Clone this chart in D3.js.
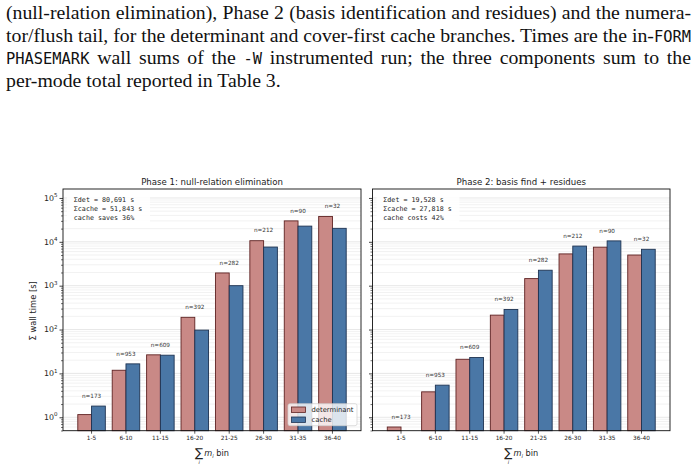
<!DOCTYPE html>
<html>
<head>
<meta charset="utf-8">
<script src="https://cdn.jsdelivr.net/npm/d3@7"></script>
<style>
  body { margin: 0; background: #fff; }
  svg { display: block; }
  .tick text { font-family: "DejaVu Sans", sans-serif; fill: #222; }
</style>
</head>
<body>
<svg id="chart" width="700" height="470"></svg>
<script>
// ---- data ----
let bins = ["1-5", "6-10", "11-15", "16-20", "21-25", "26-30", "31-35", "36-40"];
let counts = [173, 953, 609, 392, 282, 212, 90, 32];
let phase1_det = [1.15, 11.8, 26.5, 190, 1950, 10600, 30000, 37900];
let phase1_cache = [1.8, 16.5, 26, 97, 1000, 7600, 22800, 20300];
let phase2_det = [0.6, 3.8, 21, 213, 1450, 5300, 7550, 5000];
let phase2_cache = [0.4, 5.4, 23, 286, 2250, 8000, 10500, 6750];
let y_major = [1, 10, 100, 1000, 10000, 100000];
let phase1_note = ["\u03A3det = 80,691 s", "\u03A3cache = 51,843 s", "cache saves 36%"];
let phase2_note = ["\u03A3det = 19,528 s", "\u03A3cache = 27,818 s", "cache costs 42%"];
let series_names = ["determinant", "cache"];
let caption = [
  [["(null-relation elimination), Phase 2 (basis identification and residues) and the numera-", 0]],
  [["tor/flush tail, for the determinant and cover-first cache branches. Times are the in-", 0], ["FORM", 1]],
  [["PHASEMARK", 1], [" wall sums of the ", 0], ["-W", 1], [" instrumented run; the three components sum to the", 0]],
  [["per-mode total reported in Table 3.", 0]]
];

let colors = {det: "#c98986", det_edge: "#5e2222", cache: "#4a77a6", cache_edge: "#1e3352"},
  plot = {top: 189, bottom: 430.7},
  panels = [
    {left: 63, right: 361, title: "Phase 1: null-relation elimination", det: phase1_det, cache: phase1_cache, note: phase1_note, labels: true, legend: true},
    {left: 372.5, right: 670, title: "Phase 2: basis find + residues", det: phase2_det, cache: phase2_cache, note: phase2_note, labels: false, legend: false}
  ];

let svg = d3.select("#chart");

function draw_caption() {
  let g = svg.append("g");
  caption.forEach((segs, i) => {
    let t = g.append("text")
      .attr("x", 6)
      .attr("y", 19 + 22.5 * i)
      .attr("font-size", 19.8)
      .attr("fill", "#111");
    segs.forEach(s => {
      t.append("tspan")
        .attr("font-family", s[1] ? "'DejaVu Sans Mono', monospace" : "'Liberation Serif', serif")
        .attr("font-size", s[1] ? 15.4 : 19.8)
        .text(s[0]);
    });
    if (i < caption.length - 1) {
      let full = segs.map(s => s[0]).join("");
      let n_spaces = full.split(" ").length - 1;
      let natural = t.node().getComputedTextLength();
      t.attr("word-spacing", (685 - natural) / n_spaces);
    }
  });
}

function draw_panel(p, y) {
  let x = d3.scaleBand()
    .domain(bins)
    .range([p.left, p.right])
    .paddingInner(0)
    .paddingOuter(0.33);
  let bw = x.bandwidth();
  let g = svg.append("g");

  // grid, minor + major
  g.append("g").selectAll("line")
    .data(y.ticks())
    .enter().append("line")
    .attr("x1", p.left).attr("x2", p.right)
    .attr("y1", d => y(d)).attr("y2", d => y(d))
    .attr("stroke", d => y_major.includes(d) ? "#dcdcdc" : "#ececec")
    .attr("stroke-width", 0.7);

  let pairs = [["det", p.det, -0.4], ["cache", p.cache, 0]];
  pairs.forEach(([key, vals, off]) => {
    g.append("g").selectAll("rect")
      .data(bins.map((b, i) => ({bin: b, v: vals[i]})).filter(d => d.v > y.domain()[0]))
      .enter().append("rect")
      .attr("x", d => x(d.bin) + bw / 2 + off * bw)
      .attr("width", 0.4 * bw)
      .attr("y", d => y(d.v))
      .attr("height", d => plot.bottom - y(d.v))
      .attr("fill", colors[key])
      .attr("stroke", colors[key + "_edge"])
      .attr("stroke-width", 0.9);
  });

  // n labels
  g.append("g").selectAll("text")
    .data(bins.map((b, i) => ({bin: b, n: counts[i], top: Math.max(p.det[i], p.cache[i])})))
    .enter().append("text")
    .attr("x", d => x(d.bin) + bw / 2)
    .attr("y", d => y(d.top * 1.5) - 0.5)
    .attr("text-anchor", "middle")
    .attr("font-family", "'DejaVu Sans', sans-serif")
    .attr("font-size", 5.7)
    .attr("fill", "#333")
    .text(d => "n=" + d.n);

  // spines
  g.append("rect")
    .attr("x", p.left).attr("y", plot.top)
    .attr("width", p.right - p.left).attr("height", plot.bottom - plot.top)
    .attr("fill", "none").attr("stroke", "#111").attr("stroke-width", 0.9);

  // x axis
  let xa = g.append("g")
    .attr("transform", `translate(0, ${plot.bottom})`)
    .call(d3.axisBottom(x).tickSize(3).tickPadding(2));
  xa.select(".domain").remove();
  xa.selectAll(".tick line").attr("stroke", "#111").attr("stroke-width", 0.7);
  xa.selectAll(".tick text").attr("font-size", 5.8);

  // y axis, minor then major
  let ya_minor = g.append("g")
    .attr("transform", `translate(${p.left}, 0)`)
    .call(d3.axisLeft(y).tickValues(y.ticks().filter(d => !y_major.includes(d))).tickSize(2).tickFormat(""));
  ya_minor.select(".domain").remove();
  ya_minor.selectAll(".tick line").attr("stroke", "#111").attr("stroke-width", 0.6);
  let ya = g.append("g")
    .attr("transform", `translate(${p.left}, 0)`)
    .call(d3.axisLeft(y).tickValues(y_major).tickSize(3.5).tickFormat(""));
  ya.select(".domain").remove();
  ya.selectAll(".tick line").attr("stroke", "#111").attr("stroke-width", 0.8);

  if (p.labels) {
    let lab = g.append("g").selectAll("text")
      .data(y_major)
      .enter().append("text")
      .attr("x", p.left - 5.5)
      .attr("y", d => y(d) + 2.8)
      .attr("text-anchor", "end")
      .attr("font-family", "'DejaVu Sans', sans-serif")
      .attr("font-size", 7.9)
      .attr("fill", "#222");
    lab.append("tspan").text("10");
    lab.append("tspan")
      .attr("font-size", 5.5)
      .attr("dy", -3.6)
      .text(d => Math.round(Math.log10(d)));

    svg.append("text")
      .attr("transform", `translate(35.5, ${(plot.top + plot.bottom) / 2 + 1}) rotate(-90)`)
      .attr("text-anchor", "middle")
      .attr("font-family", "'DejaVu Sans', sans-serif")
      .attr("font-size", 8.3)
      .attr("fill", "#222")
      .text("\u03A3 wall time [s]");
  }

  // title
  svg.append("text")
    .attr("x", (p.left + p.right) / 2)
    .attr("y", 184.8)
    .attr("text-anchor", "middle")
    .attr("font-family", "'DejaVu Sans', sans-serif")
    .attr("font-size", 8.6)
    .attr("fill", "#222")
    .text(p.title);

  // summary note
  g.append("rect")
    .attr("x", p.left + 4).attr("y", plot.top + 3)
    .attr("width", 83).attr("height", 33)
    .attr("fill", "#fff").attr("fill-opacity", 0.85);
  g.append("g").selectAll("text")
    .data(p.note)
    .enter().append("text")
    .attr("x", p.left + 10.8)
    .attr("y", (d, i) => plot.top + 12.6 + 9.2 * i)
    .attr("font-family", "'DejaVu Sans Mono', monospace")
    .attr("font-size", 6.7)
    .attr("fill", "#222")
    .attr("xml:space", "preserve")
    .text(d => d);

  // legend
  if (p.legend) {
    let lg = g.append("g").attr("transform", `translate(${p.right - 73}, ${plot.bottom - 27})`);
    lg.append("rect")
      .attr("width", 69).attr("height", 22).attr("rx", 2)
      .attr("fill", "#fff").attr("fill-opacity", 0.8)
      .attr("stroke", "#d0d0d0").attr("stroke-width", 0.7);
    series_names.forEach((name, i) => {
      let key = i == 0 ? "det" : "cache";
      lg.append("rect")
        .attr("x", 3.5).attr("y", 3.3 + 10 * i)
        .attr("width", 14).attr("height", 5.4)
        .attr("fill", colors[key]).attr("stroke", colors[key + "_edge"]).attr("stroke-width", 0.8);
      lg.append("text")
        .attr("x", 23.5).attr("y", 8.6 + 10 * i)
        .attr("font-family", "'DejaVu Sans', sans-serif")
        .attr("font-size", 6.8)
        .attr("fill", "#222")
        .text(name);
    });
  }

  // x label: sum_i m_i bin
  let cx = (p.left + p.right) / 2;
  let xl = svg.append("text")
    .attr("x", cx)
    .attr("y", 456)
    .attr("text-anchor", "middle")
    .attr("font-family", "'DejaVu Sans', sans-serif")
    .attr("fill", "#222");
  xl.append("tspan").attr("font-size", 12).attr("dy", 0.6).text("\u2211");
  xl.append("tspan").attr("font-size", 8.2).attr("font-style", "italic").attr("dx", 1).attr("dy", -0.6).text("m");
  xl.append("tspan").attr("font-size", 5.2).attr("font-style", "italic").attr("dy", 1.8).text("i");
  xl.append("tspan").attr("font-size", 8.2).attr("dy", -1.8).text(" bin");
  let ext = xl.node().getExtentOfChar(0);
  svg.append("text")
    .attr("x", ext.x + ext.width / 2)
    .attr("y", 463.5)
    .attr("text-anchor", "middle")
    .attr("font-family", "'DejaVu Sans', sans-serif")
    .attr("font-size", 5)
    .attr("font-style", "italic")
    .attr("fill", "#222")
    .text("i");
}

function visualize() {
  draw_caption();
  let y = d3.scaleLog()
    .domain([0.494, 1.6e5])
    .range([plot.bottom, plot.top]);
  panels.forEach(p => draw_panel(p, y));
}

visualize();
</script>
</body>
</html>
